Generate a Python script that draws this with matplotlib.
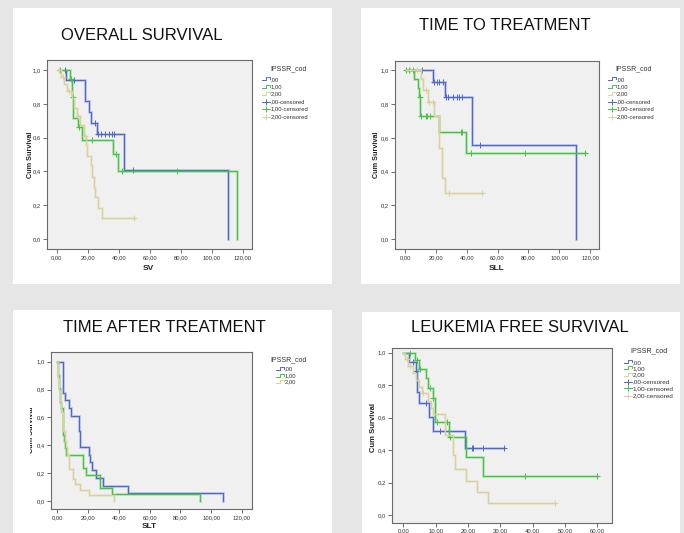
import matplotlib
matplotlib.use('Agg')
import matplotlib.pyplot as plt
import numpy as np
from matplotlib.lines import Line2D
from matplotlib.patches import Rectangle
from matplotlib.transforms import Bbox, TransformedBbox

W, H = 684, 533
plt.rcParams['font.family'] = ['Liberation Sans', 'DejaVu Sans']

# ---------------- data ----------------
titles = ['OVERALL SURVIVAL', 'TIME TO TREATMENT', 'TIME AFTER TREATMENT', 'LEUKEMIA FREE SURVIVAL']
xlabels = ['SV', 'SLL', 'SLT', '']
legend_title = 'IPSSR_cod'
legend_labels = [',00', '1,00', '2,00', ',00-censored', '1,00-censored', '2,00-censored']
ytick_vals = [0.0, 0.2, 0.4, 0.6, 0.8, 1.0]
ytick_labels = ['0,0', '0,2', '0,4', '0,6', '0,8', '1,0']
xtick_vals_long = [0, 20, 40, 60, 80, 100, 120]
xtick_labels_long = ['0,00', '20,00', '40,00', '60,00', '80,00', '100,00', '120,00']
xtick_vals_lfs = [0, 10, 20, 30, 40, 50, 60]
xtick_labels_lfs = ['0.00', '10.00', '20.00', '30.00', '40.00', '50.00', '60.00']

# Overall survival (SV): groups ,00 / 1,00 / 2,00
sv_start = [5.4, 1.5, 0.6]
sv_times = [[6.0, 18.3, 20.9, 22.2, 25.8, 43.7, 110.8],
            [8.6, 10.1, 10.8, 13.8, 16.1, 36.1, 39.6, 116.1],
            [2.6, 4.9, 6.9, 10.1, 11.4, 12.9, 15.0, 17.4, 18.9, 19.8, 21.9, 23.0, 24.3, 24.9, 26.9, 29.0]]
sv_surv = [[0.94, 0.817, 0.75, 0.689, 0.622, 0.411, 0.0],
           [0.947, 0.839, 0.715, 0.66, 0.583, 0.502, 0.40, 0.0],
           [0.96, 0.917, 0.876, 0.833, 0.778, 0.728, 0.675, 0.612, 0.557, 0.492, 0.435, 0.368, 0.30, 0.248, 0.183, 0.124]]
sv_cens = [[5.4, 11.4, 24.7, 26.9, 28.6, 31.2, 34.0, 35.5, 37.2, 49.0],
           [2.2, 9.2, 10.3, 14.6, 22.6, 38.3, 42.4, 77.4],
           [1.5, 3.8, 8.2, 14.0, 18.0, 50.1]]
sv_end = [110.8, 116.1, 50.1]

# Time to treatment (SLL)
sll_start = [2.0, 0.6, 0.6]
sll_times = [[17.9, 25.9, 43.2, 110.7],
             [6.1, 8.2, 9.3, 9.9, 22.1, 39.4],
             [10.4, 11.9, 14.7, 18.6, 22.1, 23.8, 25.9]]
sll_surv = [[0.933, 0.84, 0.558, 0.0],
            [0.949, 0.893, 0.84, 0.73, 0.637, 0.509],
            [0.949, 0.884, 0.815, 0.73, 0.542, 0.361, 0.272]]
sll_cens = [[10.8, 19.0, 20.5, 22.0, 24.9, 26.6, 28.1, 30.9, 33.9, 35.2, 36.8, 48.6],
            [0.6, 2.6, 5.4, 9.5, 10.2, 13.6, 14.5, 16.2, 36.1, 37.2, 42.6, 77.8, 116.8],
            [3.2, 7.5, 13.5, 15.8, 17.9, 28.8, 50.2]]
sll_end = [110.7, 116.8, 50.2]

# Time after treatment (SLT), no censoring
slt_start = [0.6, 0.0, 0.0]
slt_times = [[3.3, 3.9, 4.6, 7.2, 8.7, 13.7, 14.8, 20.2, 21.3, 22.4, 25.0, 29.5, 45.8, 107.6],
             [0.5, 1.3, 1.8, 2.4, 3.3, 3.9, 4.3, 5.2, 5.6, 16.9, 18.7, 27.8, 35.6, 92.9],
             [0.1, 0.4, 1.1, 1.7, 2.6, 3.3, 3.9, 4.8, 5.6, 6.5, 7.6, 9.8, 11.5, 14.8, 20.2, 36.5]]
slt_surv = [[0.889, 0.778, 0.722, 0.667, 0.611, 0.5, 0.389, 0.333, 0.278, 0.222, 0.167, 0.111, 0.056, 0.0],
            [0.905, 0.81, 0.714, 0.667, 0.571, 0.476, 0.429, 0.381, 0.333, 0.238, 0.19, 0.095, 0.048, 0.0],
            [0.95, 0.88, 0.80, 0.72, 0.64, 0.56, 0.50, 0.43, 0.39, 0.33, 0.23, 0.16, 0.12, 0.08, 0.04, 0.0]]
slt_cens = [[], [], []]
slt_end = [107.6, 92.9, 36.5]

# Leukemia free survival
lfs_start = [0.5, 0.0, 0.0]
lfs_times = [[1.9, 3.9, 4.1, 4.9, 8.0, 9.3, 19.1],
             [3.6, 4.8, 7.0, 7.7, 9.1, 9.8, 14.2, 19.4, 24.5],
             [0.5, 1.3, 2.9, 3.9, 4.9, 5.7, 7.7, 8.5, 9.3, 12.9, 15.5, 16.0, 19.4, 22.7, 26.3]]
lfs_surv = [[0.942, 0.887, 0.757, 0.689, 0.607, 0.516, 0.414],
            [0.953, 0.901, 0.844, 0.784, 0.722, 0.576, 0.479, 0.358, 0.239],
            [0.96, 0.92, 0.875, 0.83, 0.79, 0.75, 0.70, 0.66, 0.62, 0.496, 0.372, 0.284, 0.212, 0.144, 0.072]]
lfs_cens = [[3.1, 4.0, 7.0, 11.3, 21.1, 21.5, 24.5, 31.1],
            [2.1, 4.1, 5.2, 8.3, 9.3, 10.3, 13.4, 14.4, 37.6, 60.0],
            [1.0, 2.2, 6.0, 46.9]]
lfs_end = [31.1, 60.0, 46.9]

colors = ['#5068cc', '#46c246', '#d9d19c']

# ---------------- helpers ----------------
fig = plt.figure(figsize=(W / 100, H / 100), dpi=100)
fig.patch.set_facecolor('#e6e6e6')


def fx(x):
    return x / W


def fy(y):
    return 1 - y / H


def panel(x0, y0, x1, y1):
    fig.patches.append(Rectangle((fx(x0), fy(y1)), (x1 - x0) / W, (y1 - y0) / H,
                                 transform=fig.transFigure, facecolor='white',
                                 edgecolor='none', zorder=-1))


def make_axes(x0, y0, x1, y1):
    ax = fig.add_axes([fx(x0), fy(y1), (x1 - x0) / W, (y1 - y0) / H])
    ax.set_facecolor('#f0f0f0')
    for sp in ax.spines.values():
        sp.set_color('#6a6a6a')
        sp.set_linewidth(0.8)
    return ax


def surv_at(t, s, c):
    idx = np.searchsorted(np.array(t), c, side='right')
    return 1.0 if idx == 0 else s[idx - 1]


def km(ax, start, t, s, end, cens, color):
    xs = [start] + list(t)
    ys = [1.0] + list(s)
    if end > xs[-1]:
        xs.append(end)
        ys.append(ys[-1])
    ax.step(xs, ys, where='post', color=color, lw=2.0, alpha=0.3, solid_joinstyle='miter')
    ax.step(xs, ys, where='post', color=color, lw=0.8)
    if cens:
        cy = [surv_at(t, s, c) for c in cens]
        ax.plot(cens, cy, ls='none', marker='+', ms=4.5, mew=0.7, color=color)


def style_axes(ax, xlim, ylim, xt, xtl, fs):
    ax.set_xlim(*xlim)
    ax.set_ylim(*ylim)
    ax.set_xticks(xt)
    ax.set_xticklabels(xtl)
    ax.set_yticks(ytick_vals)
    ax.set_yticklabels(ytick_labels)
    ax.tick_params(direction='out', length=3, width=0.6, color='#555555',
                   labelsize=fs, labelcolor='#333333', pad=1.5)


def legend(xt, yt, xi, ys, n, fs_t, fs):
    fig.text(fx(xt), fy(yt), legend_title, fontsize=fs_t, color='#333333', va='center', ha='left')
    for i in range(n):
        y = ys[i]
        c = colors[i % 3]
        if i < 3:
            fig.add_artist(Line2D([fx(xi), fx(xi + 4), fx(xi + 4), fx(xi + 8), fx(xi + 8)],
                                  [fy(y + 1), fy(y + 1), fy(y - 2), fy(y - 2), fy(y)],
                                  transform=fig.transFigure, color=c, lw=0.7))
        else:
            fig.add_artist(Line2D([fx(xi), fx(xi + 8)], [fy(y), fy(y)],
                                  transform=fig.transFigure, color=c, lw=0.7))
            fig.add_artist(Line2D([fx(xi + 4)], [fy(y)], transform=fig.transFigure,
                                  color=c, marker='+', ms=4, mew=0.7, ls='none'))
        fig.text(fx(xi + 8.5), fy(y), legend_labels[i], fontsize=fs, color='#333333',
                 va='center', ha='left')


# ---------------- panels ----------------
panel(13, 8, 332, 284)
panel(361, 8, 680, 284)
panel(13, 310, 332, 533)
panel(362, 312, 680, 533)

title_font = ['Liberation Sans Narrow', 'Liberation Sans', 'DejaVu Sans']

# Panel 1
ax1 = make_axes(46.7, 60, 251.7, 249)
for g in range(3):
    km(ax1, sv_start[g], sv_times[g], sv_surv[g], sv_end[g], sv_cens[g], colors[g])
style_axes(ax1, (-6.45, 125.8), (-0.059, 1.059), xtick_vals_long, xtick_labels_long, 4.2)
fig.text(fx(142), fy(35), titles[0], fontsize=12, ha='center', va='center', color='#111111', family=title_font)
fig.text(fx(148), fy(268), xlabels[0], fontsize=6, fontweight='bold', ha='center', va='center', color='#222222')
fig.text(fx(30), fy(155), 'Cum Survival', fontsize=5.2, fontweight='bold', rotation=90,
         ha='center', va='center', color='#222222')
legend(270, 69, 262, [79.3, 86.7, 94, 101.7, 109, 116.7], 6, 5, 4.2)

# Panel 2
ax2 = make_axes(395, 60.7, 599, 249)
for g in range(3):
    km(ax2, sll_start[g], sll_times[g], sll_surv[g], sll_end[g], sll_cens[g], colors[g])
style_axes(ax2, (-6.5, 125.8), (-0.058, 1.057), xtick_vals_long, xtick_labels_long, 4.2)
fig.text(fx(505), fy(26), titles[1], fontsize=12, ha='center', va='center', color='#111111', family=title_font)
fig.text(fx(497), fy(268), xlabels[1], fontsize=6, fontweight='bold', ha='center', va='center', color='#222222')
fig.text(fx(377), fy(155), 'Cum Survival', fontsize=5.2, fontweight='bold', rotation=90,
         ha='center', va='center', color='#222222')
legend(615, 69, 608, [79.3, 86.7, 94, 101.7, 109, 116.7], 6, 5, 4.2)

# Panel 3
ax3 = make_axes(50.7, 352, 251.7, 509)
for g in range(3):
    km(ax3, slt_start[g], slt_times[g], slt_surv[g], slt_end[g], slt_cens[g], colors[g])
style_axes(ax3, (-4.4, 126.4), (-0.057, 1.07), xtick_vals_long, xtick_labels_long, 4.2)
fig.text(fx(164), fy(328), titles[2], fontsize=12, ha='center', va='center', color='#111111', family=title_font)
fig.text(fx(149), fy(527), xlabels[2], fontsize=6, fontweight='bold', ha='center', va='center', color='#222222')
yl3 = fig.text(fx(31.5), fy(430), 'Cum Survival', fontsize=5.2, fontweight='bold', rotation=90,
               ha='center', va='center', color='#222222')
yl3.set_clip_on(True)
yl3.set_clip_box(TransformedBbox(Bbox([[fx(30), 0], [1, 1]]), fig.transFigure))
legend(270, 360, 276, [369, 375.5, 382], 3, 5, 4.2)

# Panel 4
ax4 = make_axes(392, 347.7, 611.7, 522.7)
for g in range(3):
    km(ax4, lfs_start[g], lfs_times[g], lfs_surv[g], lfs_end[g], lfs_cens[g], colors[g])
style_axes(ax4, (-3.5, 64.4), (-0.047, 1.031), xtick_vals_lfs, xtick_labels_lfs, 4.3)
fig.text(fx(520), fy(328), titles[3], fontsize=12, ha='center', va='center', color='#111111', family=title_font)
fig.text(fx(373.5), fy(428), 'Cum Survival', fontsize=5.5, fontweight='bold', rotation=90,
         ha='center', va='center', color='#222222')
legend(630, 350.7, 624, [362.3, 368.3, 375, 381.7, 388.3, 395.7], 6, 5.2, 4.6)

fig.savefig('out.png', dpi=100, facecolor=fig.get_facecolor())
